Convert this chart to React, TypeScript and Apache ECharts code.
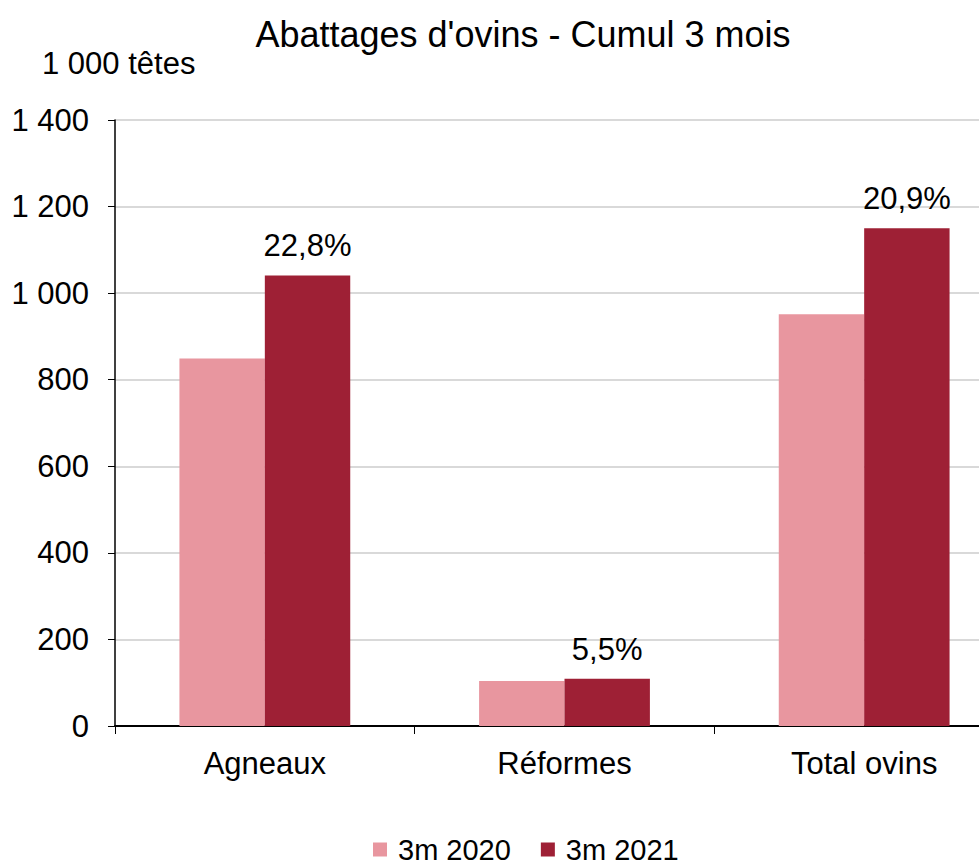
import React, { useEffect, useRef } from "react";
import * as echarts from "echarts";

const categories = ["Agneaux", "Réformes", "Total ovins"];
const values2020 = [849, 104, 951];
const values2021 = [1041, 109, 1150];
const changeLabels = ["22,8%", "5,5%", "20,9%"];
const seriesNames = ["3m 2020", "3m 2021"];
const FONT = "'Liberation Sans', Arial, sans-serif";

const fmt = (v: number) => {
  const s = String(v);
  return s.replace(/\B(?=(\d{3})+(?!\d))/g, " ");
};

export default function App() {
  const ref = useRef<HTMLDivElement>(null);
  useEffect(() => {
    if (!ref.current) return;
    const chart = echarts.init(ref.current, null, { renderer: "svg" });
    chart.setOption({
      animation: false,
      textStyle: { fontFamily: FONT, color: "#000" },
      title: {
        text: "Abattages d'ovins - Cumul 3 mois",
        left: 518,
        textAlign: "center",
        top: 11,
        textStyle: { fontSize: 36, fontWeight: "normal", color: "#000", fontFamily: FONT },
      },
      graphic: [
        {
          type: "text",
          left: 42,
          top: 48,
          style: { text: "1 000 têtes", font: `31px ${FONT}`, fill: "#000" },
        },
      ],
      legend: {
        bottom: -3,
        left: 368,
        itemWidth: 14,
        itemHeight: 14,
        itemGap: 30,
        icon: "rect",
        textStyle: { fontSize: 29, color: "#000", fontFamily: FONT, padding: [0, 0, 0, 6] },
        data: seriesNames,
      },
      grid: { left: 115, top: 120, height: 606, width: 899, outerBoundsMode: "none", containLabel: false },
      xAxis: {
        type: "category",
        data: categories,
        axisLine: { lineStyle: { color: "#000", width: 2 } },
        axisTick: { show: true, length: 8, lineStyle: { color: "#000" } },
        axisLabel: { fontSize: 31, color: "#000", margin: 22, fontFamily: FONT },
      },
      yAxis: {
        type: "value",
        min: 0,
        max: 1400,
        interval: 200,
        axisLine: { show: true, lineStyle: { color: "#000", width: 1.5 } },
        axisTick: { show: true, length: 7, lineStyle: { color: "#000" } },
        axisLabel: { fontSize: 31, color: "#000", margin: 26, fontFamily: FONT, formatter: (v: number) => fmt(v) },
        splitLine: { show: true, lineStyle: { color: "#d9d9d9", width: 2 } },
      },
      series: [
        {
          name: seriesNames[0],
          type: "bar",
          data: values2020,
          barGap: "0%",
          barCategoryGap: "43%",
          itemStyle: { color: "#E8969F" },
        },
        {
          name: seriesNames[1],
          type: "bar",
          data: values2021,
          barGap: "0%",
          barCategoryGap: "43%",
          itemStyle: { color: "#9E2035" },
          label: {
            show: true,
            position: "top",
            distance: 14,
            fontSize: 31,
            color: "#000",
            fontFamily: FONT,
            formatter: (p: any) => changeLabels[p.dataIndex],
          },
        },
      ],
    });
    return () => chart.dispose();
  }, []);
  return <div ref={ref} style={{ width: 979, height: 866, position: "absolute", left: 0, top: 0 }} />;
}
